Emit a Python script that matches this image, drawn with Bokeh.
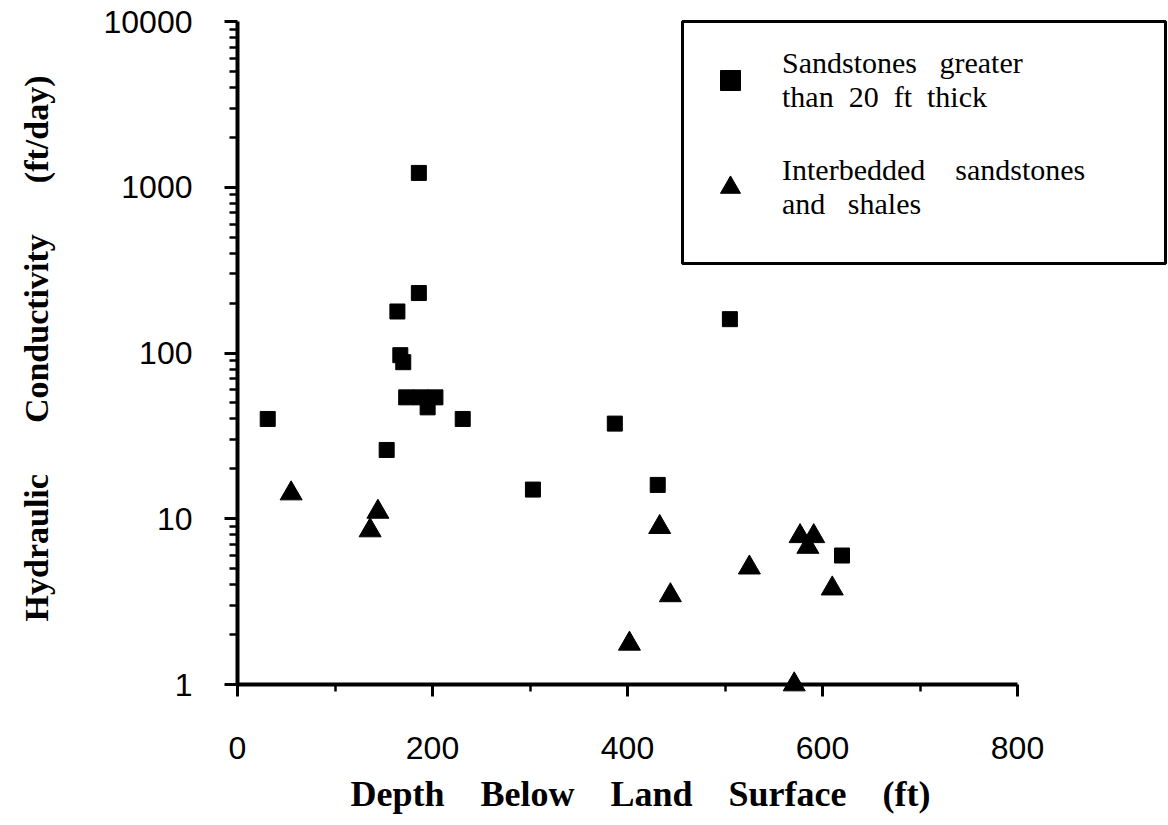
import math
from bokeh.plotting import figure
from bokeh.models import (FixedTicker, Legend, LegendItem, Range1d, CustomJSTickFormatter,
                          Title, BoxAnnotation)
from bokeh.embed import file_html
from bokeh.resources import INLINE

# Sandstones greater than 20 ft thick
sand_depth = [31, 153, 164, 167, 170, 173, 186, 186, 188, 195, 203, 231, 303, 387, 431, 505, 620]
sand_k = [40, 26, 178, 97, 88, 54, 1220, 230, 54, 47, 54, 40, 15, 37.5, 16, 160, 6.0]

# Interbedded sandstones and shales
inter_depth = [55, 136, 144, 402, 433, 444, 525, 571, 577, 585, 591, 610]
inter_k = [14.2, 8.5, 11.0, 1.76, 8.9, 3.45, 5.07, 1.0, 7.84, 6.76, 7.84, 3.79]

x_ticks = [0, 200, 400, 600, 800]
x_minor = [100, 300, 500, 700]
y_ticks = [1, 10, 100, 1000, 10000]
y_minor = [k * 10 ** d for d in range(4) for k in range(2, 10)]

NB = "\u00a0"
legend_labels = ["Sandstones" + NB * 2 + " greater\nthan" + NB + " 20" + NB + " ft" + NB + " thick",
                 "Interbedded" + NB * 3 + " sandstones\nand" + NB * 2 + " shales"]
x_title = (NB * 3 + " ").join(["Depth", "Below", "Land", "Surface", "(ft)"])
y_title = (NB * 5 + " ").join(["Hydraulic", "Conductivity", "(ft/day)"])

# ---- layout (pixels on the canvas) ----
W, H = 1168, 823
FL, FR, FT, FB = 237, 1168, 12, 684    # frame edges
X0, X800 = 237, 1017                   # where depth 0 and 800 sit
Y1, Y10000 = 684, 21                   # where K = 1 and 10000 sit
X_END = 800 * (FR - FL) / (X800 - X0)
Y_END = 10 ** (4 * (FB - FT) / (Y1 - Y10000))


def px_to_x(px):
    return 800 * (px - X0) / (X800 - X0)


def py_to_y(py):
    return 10 ** (4 * (Y1 - py) / (Y1 - Y10000))


LEG_L, LEG_R, LEG_T, LEG_B = 682, 1165, 21, 263   # legend frame box

p = figure(width=W, height=H, y_axis_type="log",
           x_range=Range1d(0, X_END), y_range=Range1d(1, Y_END),
           output_backend="svg", toolbar_location=None,
           min_border_left=FL, min_border_right=W - FR,
           min_border_top=FT, min_border_bottom=H - FB)
p.outline_line_color = None
p.grid.visible = False

sq = p.scatter(sand_depth, sand_k, marker="square", size=15,
               fill_color="black", line_color="black")
tr = p.scatter(inter_depth, inter_k, marker="triangle", size=22,
               fill_color="black", line_color="black")
sq.level = "overlay"
tr.level = "overlay"

xa = p.xaxis[0]
xa.ticker = FixedTicker(ticks=x_ticks, minor_ticks=x_minor)
xa.bounds = (0, 800)
ya = p.yaxis[0]
ya.ticker = FixedTicker(ticks=y_ticks, minor_ticks=y_minor)
ya.bounds = (1, 10000)
ya.formatter = CustomJSTickFormatter(code="return tick.toFixed(0);")

for ax in (xa, ya):
    ax.axis_line_width = 4
    ax.axis_line_color = "black"
    ax.major_tick_line_width = 3
    ax.minor_tick_line_width = 2.5
    ax.major_tick_in = 0
    ax.minor_tick_in = 0
    ax.major_label_text_font = "Liberation Sans"
    ax.major_label_text_font_size = "32px"
    ax.major_label_text_color = "black"

xa.major_tick_out = 12
xa.minor_tick_out = 7
ya.major_tick_out = 13
ya.minor_tick_out = 8
xa.major_label_standoff = 40
ya.major_label_standoff = 32

ya.axis_label = y_title
ya.axis_label_text_font = "Liberation Serif"
ya.axis_label_text_font_style = "bold"
ya.axis_label_text_color = "black"
ya.axis_label_text_font_size = "34px"
ya.axis_label_standoff = 46

xt = Title(text=x_title, align="left", offset=350 - FL,
           text_font="Liberation Serif", text_font_style="bold",
           text_font_size="36px", text_color="black", standoff=20)
p.add_layout(xt, "below")

# legend frame
box = BoxAnnotation(left=px_to_x(LEG_L), right=px_to_x(LEG_R),
                    top=py_to_y(LEG_T), bottom=py_to_y(LEG_B),
                    fill_color="white", fill_alpha=1,
                    line_color="black", line_width=3, line_alpha=1)
p.add_layout(box)

PAD = 23
legend = Legend(items=[LegendItem(label=legend_labels[0], renderers=[sq]),
                       LegendItem(label=legend_labels[1], renderers=[tr])],
                location=(LEG_L - FL, FB - 244))
legend.border_line_alpha = 0
legend.background_fill_alpha = 0
legend.label_text_font = "Liberation Serif"
legend.label_text_font_size = "30px"
legend.label_text_color = "black"
legend.glyph_width = 50
legend.glyph_height = 50
legend.label_standoff = 27
legend.padding = PAD
legend.spacing = 39
legend.margin = 0
p.add_layout(legend, "center")

open("out.html", "w").write(file_html(p, INLINE))
